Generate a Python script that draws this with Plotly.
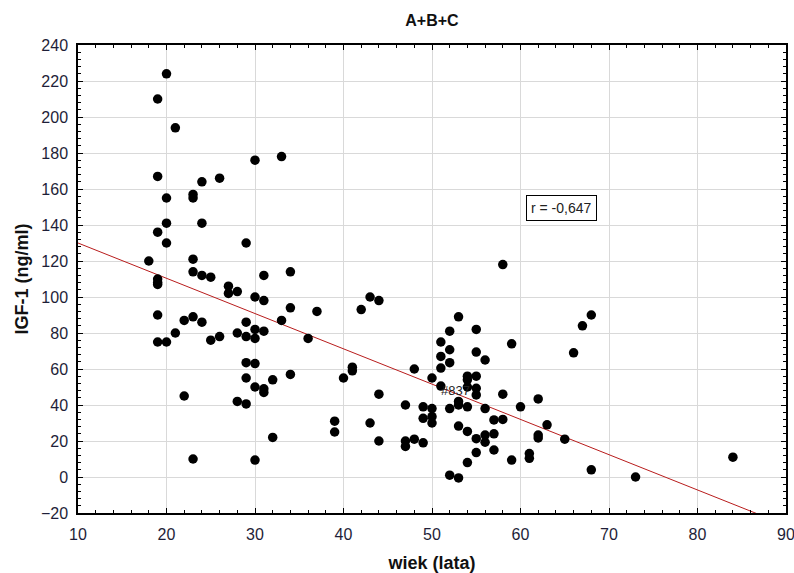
import plotly.graph_objects as go
import numpy as np

# age (years) and IGF-1 (ng/ml)
wiek = [18,
        19, 19, 19, 19, 19, 19, 19, 19,
        20, 20, 20, 20, 20,
        21, 21,
        22, 22,
        23, 23, 23, 23, 23, 23,
        24, 24, 24, 24,
        25, 25,
        26, 26,
        27, 27,
        28, 28, 28,
        29, 29, 29, 29, 29, 29,
        30, 30, 30, 30, 30, 30, 30,
        31, 31, 31, 31, 31,
        32, 32,
        33, 33,
        34, 34, 34,
        36, 37, 39, 39, 40, 41, 41, 42, 43, 43, 44, 44, 44,
        47, 47, 47, 48, 48, 49, 49, 49,
        50, 50, 50, 50,
        51, 51, 51, 51,
        52, 52, 52, 52, 52,
        53, 53, 53, 53, 53,
        54, 54, 54, 54, 54, 54,
        55, 55, 55, 55, 55, 55, 55,
        56, 56, 56, 56,
        57, 57, 57,
        58, 58, 58,
        59, 59, 60, 61, 61, 62, 62, 62, 63, 65, 66, 67, 68, 68, 73, 84]
igf1 = [120,
        210, 167, 136, 110, 108, 107, 90, 75,
        224, 155, 141, 130, 75,
        194, 80,
        87, 45,
        157, 155, 121, 114, 89, 10,
        164, 141, 112, 86,
        111, 76,
        166, 78,
        106, 102,
        103, 80, 42,
        130, 86, 78, 63.5, 55, 40.6,
        176, 100, 82, 77, 63, 50, 9.4,
        112, 98, 81, 49, 47,
        54, 22,
        178, 87,
        114, 94, 57,
        77, 92, 31, 25, 55, 61, 59, 93, 100, 30, 98, 46, 20,
        40, 20, 17, 60, 21, 39, 32.6, 19,
        55, 38, 33.5, 30,
        75, 67, 60.5, 50.5,
        81, 70.7, 63.5, 38, 1,
        89, 42, 40, 28.3, -0.5,
        56, 54, 50, 39, 25.3, 8,
        82, 69.4, 56, 49.3, 45.6, 21.3, 13.6,
        65, 38, 23.3, 19.3,
        31.7, 24, 15,
        118, 46, 32,
        74, 9.4, 39, 13, 10.4, 43.4, 23.3, 21.7, 29, 21, 69, 84, 90, 4, 0, 11]

# regression line
fit_intercept = 149.6
fit_slope = -1.96
fit_x = [10, 90]
r_text = "r = -0,647"
point_label = "#837"
label_pos = (52.6, 47.8)

FONT = "Liberation Sans Narrow, Arial Narrow, Liberation Sans, Arial"
TICKCOL = "#1e1e38"

fig = go.Figure()
fx = np.array(fit_x, dtype=float)
fig.add_trace(go.Scatter(x=fx, y=fit_intercept + fit_slope * fx, mode="lines",
                         line=dict(color="#b81c1c", width=1), hoverinfo="skip",
                         showlegend=False))
fig.add_trace(go.Scatter(x=wiek, y=igf1, mode="markers",
                         marker=dict(color="black", size=9.5), showlegend=False,
                         cliponaxis=True))

fig.add_annotation(x=label_pos[0], y=label_pos[1], text=point_label, showarrow=False,
                   font=dict(family=FONT, size=13, color="#222"))
fig.add_annotation(x=64.6, y=149.7, text=r_text, showarrow=False,
                   font=dict(family="Liberation Sans, Arial", size=14, color="#222"),
                   bordercolor="black", borderwidth=1, borderpad=4, bgcolor="white")

axis_common = dict(showline=True, linecolor="black", linewidth=1.5, mirror="allticks",
                   ticks="inside", ticklen=5, tickcolor="black",
                   showgrid=True, gridcolor="#d9d9d9", gridwidth=1, zeroline=False,
                   automargin=False, ticklabeloverflow="allow",
                   tickfont=dict(family=FONT, size=16, color=TICKCOL))

fig.update_xaxes(range=[10, 90], dtick=10, tick0=10, ticklabelstandoff=6,
                 minor=dict(dtick=2, ticks="inside", ticklen=3, tickcolor="black", showgrid=False),
                 title=dict(text="<b>wiek (lata)</b>", font=dict(family=FONT, size=18, color="#111"),
                            standoff=14),
                 **axis_common)
fig.update_yaxes(range=[-20, 240], dtick=20, tick0=0, ticklabelstandoff=5,
                 minor=dict(dtick=4, ticks="inside", ticklen=3, tickcolor="black", showgrid=False),
                 title=dict(text="<b>IGF-1 (ng/ml)</b>", font=dict(family=FONT, size=18, color="#111"),
                            standoff=8),
                 **axis_common)

fig.update_layout(
    width=794, height=573,
    margin=dict(l=78, r=8, t=45, b=60),
    paper_bgcolor="white", plot_bgcolor="white",
    title=dict(text="<b>A+B+C</b>", x=(78 + 786) / 2 / 794, xanchor="center",
               y=1 - 20 / 573, yanchor="middle",
               font=dict(family=FONT, size=16, color="#111")),
)

fig.write_html("out.html")
